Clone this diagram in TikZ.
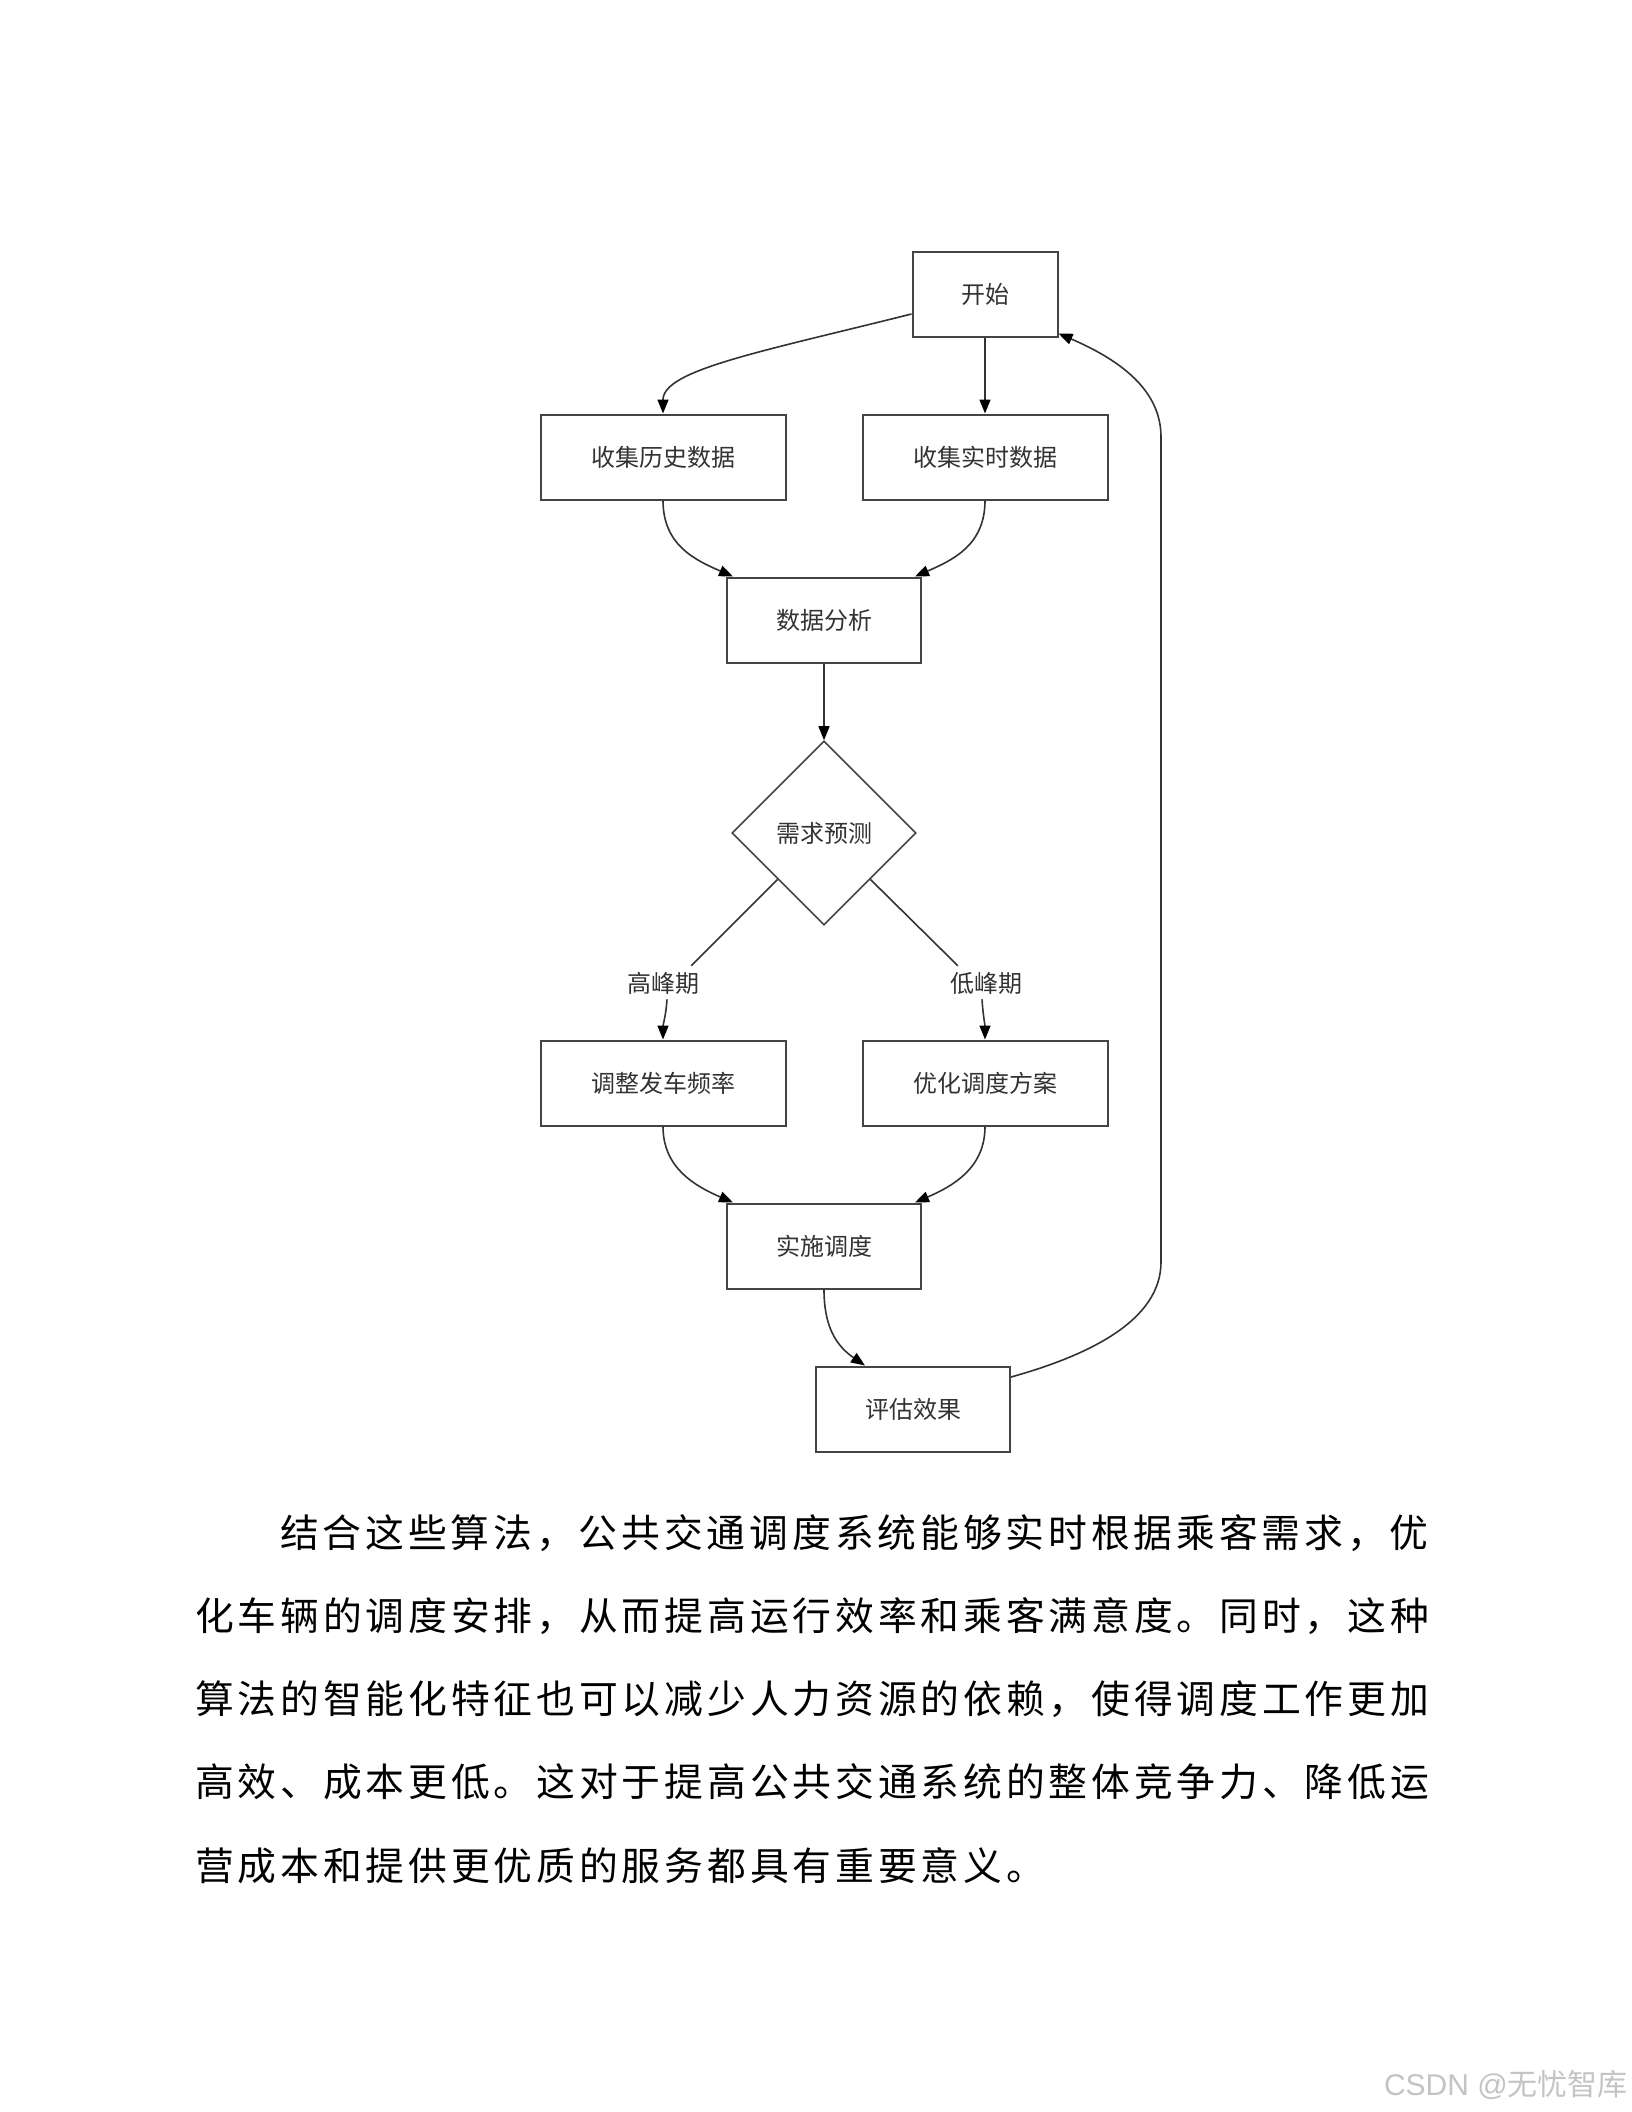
\documentclass[tikz,border=0pt]{standalone}
\usepackage{fontspec}
\setmainfont{Liberation Sans}
\newfontfamily\cjk{Noto Sans CJK SC}
\newfontfamily\cjkbody[LetterSpace=10]{Noto Sans CJK SC}
\usetikzlibrary{shapes.geometric,arrows.meta}
\definecolor{boxline}{HTML}{444444}
\definecolor{linec}{HTML}{333333}
\definecolor{txt}{HTML}{333333}
\definecolor{wm}{HTML}{C4C4C4}
\tikzset{
  box/.style={draw=boxline, line width=2pt, fill=white, minimum height=85pt, inner sep=0pt,
    font=\cjk\fontsize{24}{28}\selectfont, text=txt},
  dec/.style={diamond, aspect=1, draw=boxline, line width=1.6pt, fill=white, minimum width=184pt,
    minimum height=184pt, inner sep=0pt, font=\cjk\fontsize{24}{28}\selectfont, text=txt},
  lbl/.style={inner sep=0pt, font=\cjk\fontsize{24}{28}\selectfont, text=txt},
  conn/.style={draw=linec, line width=1.6pt, -{Triangle[length=14pt,width=11pt,color=black]}},
  plain/.style={draw=linec, line width=1.6pt},
  para/.style={anchor=west, inner sep=0pt, font=\cjkbody\fontsize{38.8}{40}\selectfont, text=black},
  wmark/.style={anchor=east, inner sep=0pt, text=wm, font=\fontsize{30}{34}\selectfont}
}
\begin{document}
\begin{tikzpicture}[x=1pt, y=-1pt]
\useasboundingbox (0,0) rectangle (1632,2112);
\fill[white] (0,0) rectangle (1632,2112);

% nodes
\node[box, minimum width=145pt] (start) at (985,294) {开始};
\node[box, minimum width=245pt] (hist) at (663,457) {收集历史数据};
\node[box, minimum width=245pt] (real) at (985,457) {收集实时数据};
\node[box, minimum width=194pt] (ana) at (824,620) {数据分析};
\node[dec] (dia) at (824,833) {需求预测};
\node[lbl] (lblH) at (663,983) {高峰期};
\node[lbl] (lblL) at (986,983) {低峰期};
\node[box, minimum width=245pt] (adj) at (663,1083) {调整发车频率};
\node[box, minimum width=245pt] (opt) at (985,1083) {优化调度方案};
\node[box, minimum width=194pt] (impl) at (824,1246) {实施调度};
\node[box, minimum width=194pt] (eval) at (913,1409) {评估效果};

% connectors
\draw[conn] ([yshift=-20pt]start.west) .. controls (760,352) and (663,370) .. (hist.north);
\draw[conn] (start.south) -- (real.north);
\draw[conn] (hist.south) .. controls (663,545) and (695,560) .. ([xshift=7pt]ana.north west);
\draw[conn] (real.south) .. controls (985,545) and (953,560) .. ([xshift=-7pt]ana.north east);
\draw[conn] (ana.south) -- (dia.north);
\draw[plain] (dia.south west) -- ([xshift=-8pt,yshift=6pt]lblH.north east);
\draw[plain] (dia.south east) -- ([xshift=8pt,yshift=6pt]lblL.north west);
\draw[conn] ([xshift=4pt,yshift=-5pt]lblH.south) .. controls (666,1015) and (663,1025) .. (adj.north);
\draw[conn] ([xshift=-4pt,yshift=-5pt]lblL.south) .. controls (983,1015) and (985,1025) .. (opt.north);
\draw[conn] (adj.south) .. controls (663,1168) and (695,1186) .. ([xshift=7pt]impl.north west);
\draw[conn] (opt.south) .. controls (985,1168) and (953,1186) .. ([xshift=-7pt]impl.north east);
\draw[conn] (impl.south) .. controls (824,1325) and (835,1345) .. ([xshift=-48pt]eval.north);
\draw[conn] ([yshift=32pt]eval.east) .. controls (1090,1355) and (1161,1320) .. (1161,1262)
  -- (1161,437) .. controls (1161,390) and (1120,360) .. ([yshift=4pt]start.south east);

% paragraph
\node[para] (p1) at (280,1533) {结合这些算法，公共交通调度系统能够实时根据乘客需求，优};
\node[para] (p2) at (195,1616) {化车辆的调度安排，从而提高运行效率和乘客满意度。同时，这种};
\node[para] (p3) at (195,1699) {算法的智能化特征也可以减少人力资源的依赖，使得调度工作更加};
\node[para] (p4) at (195,1782) {高效、成本更低。这对于提高公共交通系统的整体竞争力、降低运};
\node[para] (p5) at (195,1866) {营成本和提供更优质的服务都具有重要意义。};

% watermark
\node[wmark] (wm) at (1628,2085) {CSDN @{\cjk 无忧智库}};
\end{tikzpicture}
\end{document}
